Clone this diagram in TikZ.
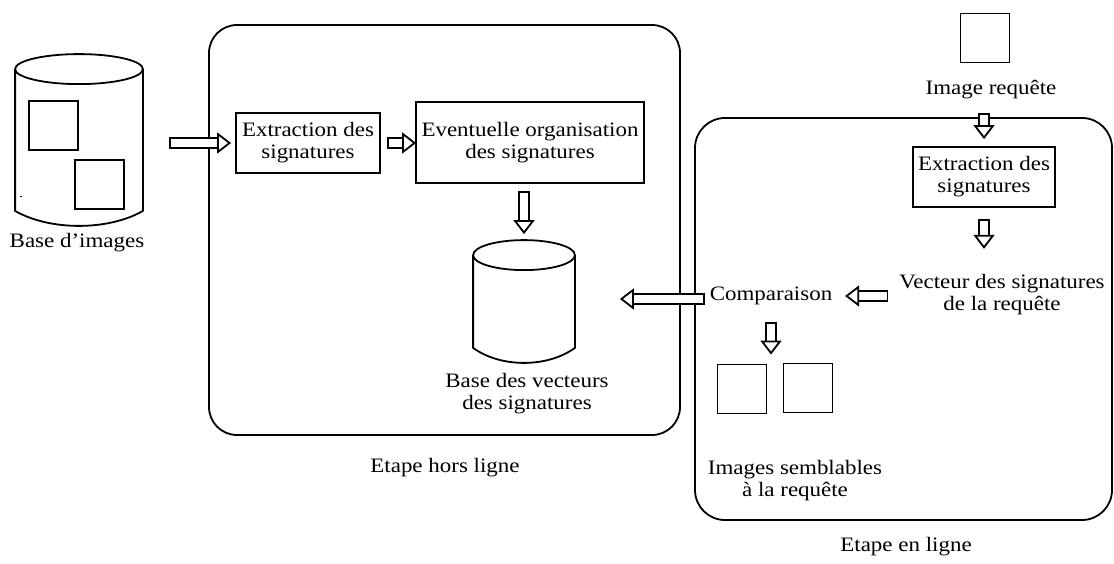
\documentclass[tikz,border=0pt]{standalone}
\usepackage{fontspec}
\setmainfont{Liberation Serif}[FakeStretch=1.12]
\usetikzlibrary{arrows.meta,calc}

% cylindre dessine sur le cadre d'un noeud : #1 nom du noeud, #2 demi-hauteur de l'ellipse
\newcommand{\cylindre}[2]{%
	\draw let \p1=(#1.north west), \p2=(#1.south east), \n1={(\x2-\x1)/2} in
		(\x1,\y1-#2pt) -- (\x1,\y2+#2pt)
		.. controls (\x1+0.54*\n1,\y2-#2pt/3) and (\x2-0.54*\n1,\y2-#2pt/3) .. (\x2,\y2+#2pt)
		-- (\x2,\y1-#2pt)
		(\x1+\n1,\y1-#2pt) ellipse [x radius=\n1,y radius=#2pt];
}

\begin{document}
\begin{tikzpicture}[x=1pt,y=-1pt,line width=1.8pt,
	font=\fontsize{20.5}{22}\selectfont,
	boite/.style={draw,align=center,inner sep=0pt},
	texte/.style={align=center,inner sep=0pt},
	carre/.style={draw,minimum size=49pt,inner sep=0pt},
	cadre/.style={inner sep=0pt},
	fleche/.style={line width=12pt,shorten >=13pt,
		postaction={draw=white,line width=8.4pt,shorten <=1.8pt,shorten >=13pt},
		postaction={draw=white,line width=1.8pt,shorten <=2.5pt,shorten >=0pt,
			-{Triangle[open,length=14pt,width=21pt,color=black]}}}]
	\useasboundingbox (0,0) rectangle (1114,564);
	% etape hors ligne
	\node[cadre,minimum width=126pt,minimum height=170pt] (imgbase) at (79,140) {};
	\cylindre{imgbase}{15}
	\node[carre] (img1) at (53.5,125.5) {};
	\node[carre] (img2) at (99.5,184.5) {};
	\draw[line width=0.8pt] (20,196) -- (22,196); % petite marque
	\node[texte] (lblbase) at (77,243) {Base d’images};
	\draw[rounded corners=28pt] (209,25) rectangle (680,435); % cadre hors ligne
	\node[boite,minimum width=144pt,minimum height=60pt] (extr1) at (308,143) {Extraction des\\signatures};
	\node[boite,minimum width=228pt,minimum height=81pt] (org) at (530,142.5) {Eventuelle organisation\\des signatures};
	\node[cadre,minimum width=100pt,minimum height=121pt] (vecbase) at (524,301.5) {};
	\cylindre{vecbase}{15}
	\node[texte] (lblvec) at (527,394) {Base des vecteurs\\des signatures};
	\node[texte] (horsligne) at (445,468) {Etape hors ligne};
	% etape en ligne
	\draw[rounded corners=30pt] (695,118) rectangle (1112,520); % cadre en ligne
	\node[carre] (reqimg) at (985,38) {};
	\node[texte] (req) at (991,90) {Image requête};
	\node[boite,minimum width=142pt,minimum height=60pt] (extr2) at (984,177) {Extraction des\\signatures};
	\node[texte] (vec) at (1002,295) {Vecteur des signatures\\de la requête};
	\node[texte] (comp) at (771,296) {Comparaison};
	\node[carre] (sim1) at (742,389) {};
	\node[carre] (sim2) at (808,388) {};
	\node[texte] (lblsim) at (795,481) {Images semblables\\à la requête};
	\node[texte] (enligne) at (906,547) {Etape en ligne};
	% fleches
	\draw[fleche] ($(imgbase.east |- extr1.west)+(26,0)$) -- ($(extr1.west)+(-4,0)$);
	\draw[fleche] ($(extr1.east)+(6,0)$) -- ($(org.west |- extr1.east)+(1,0)$);
	\draw[fleche] ($(vecbase.north |- org.south)+(0,7)$) -- ($(vecbase.north)+(0,-6)$);
	\draw[fleche] ($(comp.west)+(-4,3)$) -- ($(vecbase.east |- comp.west)+(45,3)$);
	\draw[fleche] ($(extr2.north |- req.south)+(0,13)$) -- ($(extr2.north)+(0,-7)$);
	\draw[fleche] ($(extr2.south)+(0,11)$) -- ($(extr2.south |- vec.north)+(0,-25)$);
	\draw[fleche] ($(vec.west |- comp.east)+(-10,0)$) -- ($(comp.east)+(12,0)$);
	\draw[fleche] ($(comp.south)+(0,16)$) -- ($(comp.south |- sim1.north)+(0,-9)$);
\end{tikzpicture}
\end{document}
